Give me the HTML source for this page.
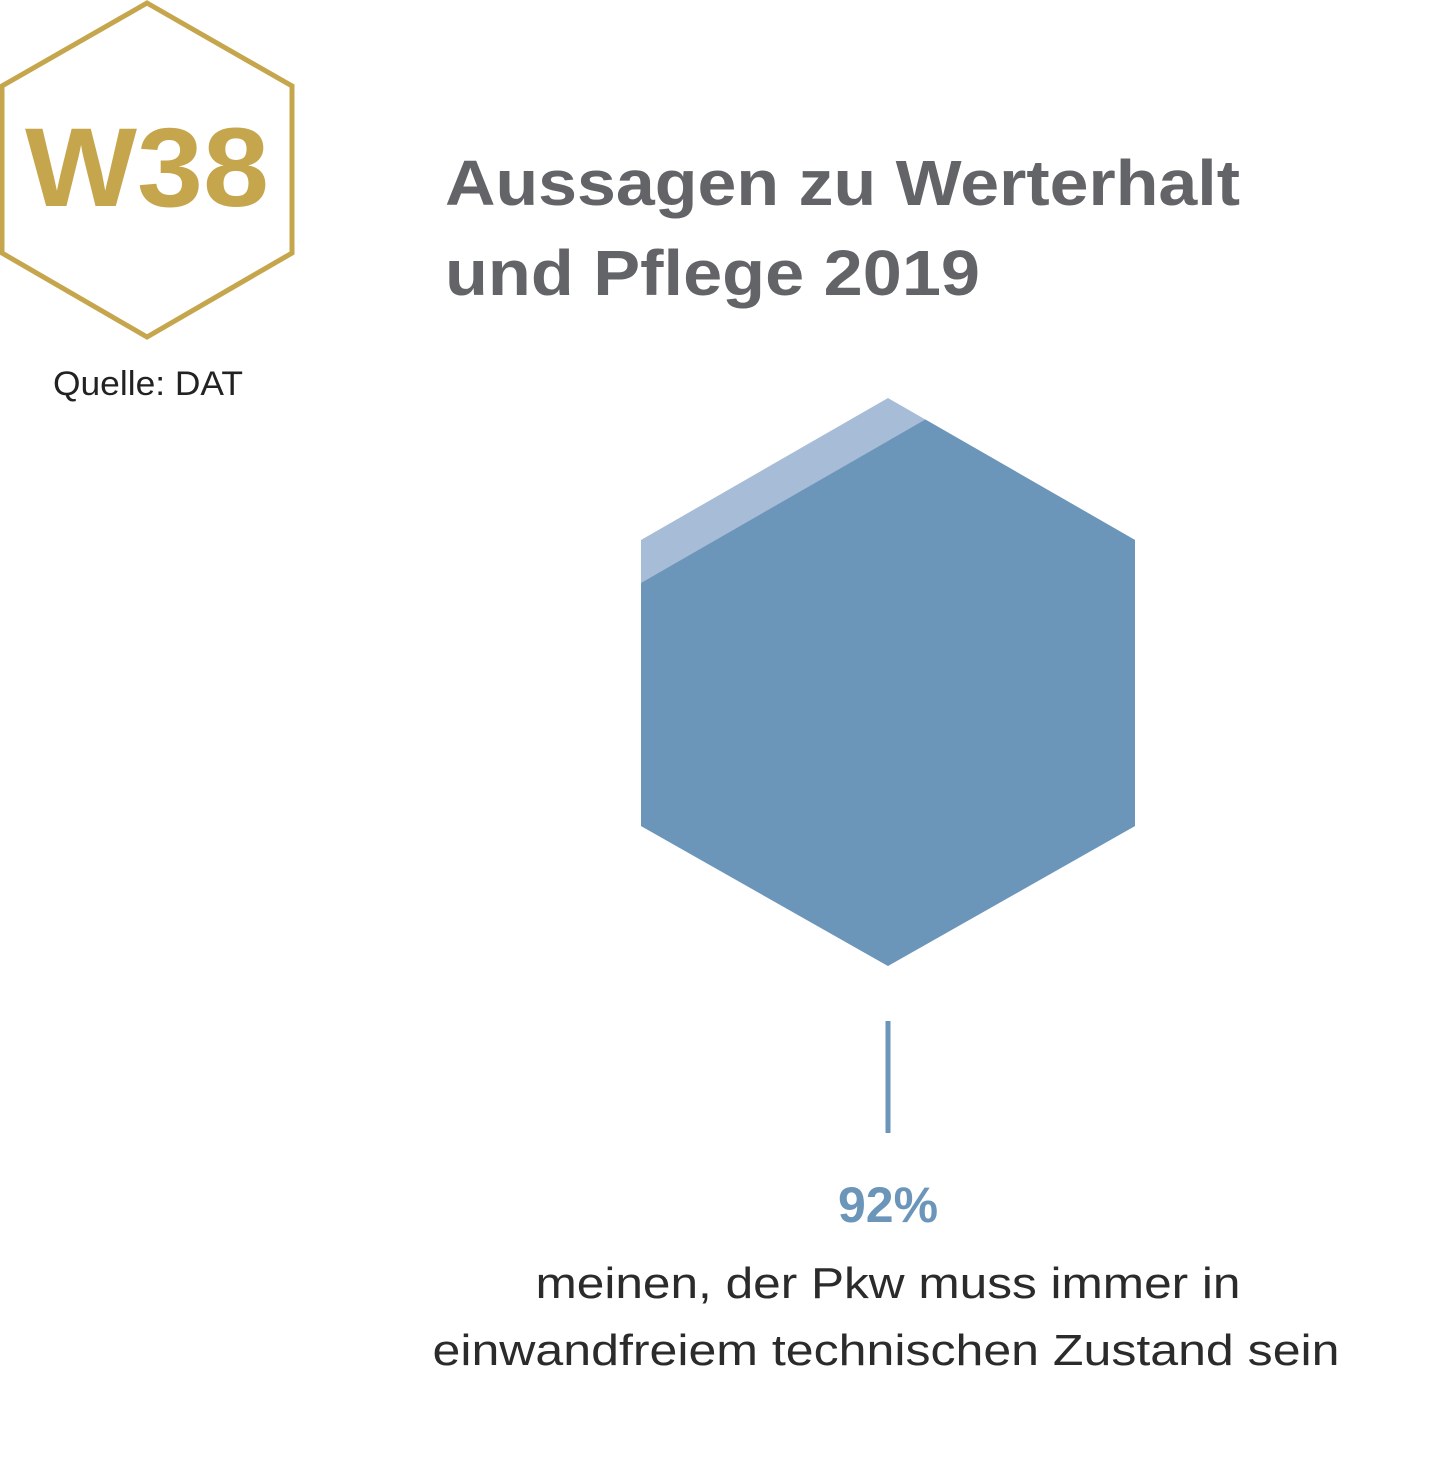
<!DOCTYPE html>
<html><head><meta charset="utf-8"><style>
html,body{margin:0;padding:0;background:#fff;width:1440px;height:1476px;overflow:hidden}
svg{display:block;font-family:"Liberation Sans",sans-serif}
</style></head><body>
<svg id="chart" width="1440" height="1476" viewBox="0 0 1440 1476">
<g>
<polygon points="147,3 292,86 292,253 147,337 2,253 2,86" fill="none" stroke="#c6a64d" stroke-width="5"/>
<text x="147" y="206" text-anchor="middle" font-size="112" font-weight="bold" fill="#c6a64d" textLength="244" lengthAdjust="spacingAndGlyphs">W38</text>
</g>
<text x="53" y="395" font-size="34" fill="#222" textLength="190" lengthAdjust="spacingAndGlyphs">Quelle: DAT</text>
<text x="445" y="205" font-size="64" font-weight="bold" fill="#636468" textLength="795" lengthAdjust="spacingAndGlyphs">Aussagen zu Werterhalt</text>
<text x="445" y="295" font-size="64" font-weight="bold" fill="#636468" textLength="535" lengthAdjust="spacingAndGlyphs">und Pflege 2019</text>
<defs><clipPath id="hexclip"><polygon points="888,398 1135,540 1135,826 888,966 641,826 641,540"/></clipPath></defs>
<g id="hexgroup"></g>
<line x1="888" y1="1021" x2="888" y2="1133" stroke="#6b96ba" stroke-width="5"/>
<text id="valueLabel" x="888" y="1222" text-anchor="middle" font-size="50" font-weight="bold" fill="#6b96ba"></text>
<text x="888" y="1298" text-anchor="middle" font-size="44" fill="#2b2b2b" textLength="705" lengthAdjust="spacingAndGlyphs">meinen, der Pkw muss immer in</text>
<text x="886" y="1365" text-anchor="middle" font-size="44" fill="#2b2b2b" textLength="907" lengthAdjust="spacingAndGlyphs">einwandfreiem technischen Zustand sein</text>
</svg>
<script>
const categories = ["Pkw immer in einwandfreiem technischen Zustand"];
const values = [92];
(function(){
const NS = "http://www.w3.org/2000/svg";
const g = document.getElementById('hexgroup');
const hexTop = {x:888,y:398}, hexUL = {x:641,y:540};
const slope = (hexUL.y - hexTop.y)/(hexUL.x - hexTop.x);
const maxOffset = 43/0.08;
function cutOffset(v){ return (1 - v/100) * maxOffset; }
const bg = document.createElementNS(NS,'polygon');
bg.setAttribute('points','888,398 1135,540 1135,826 888,966 641,826 641,540');
bg.setAttribute('fill','#a7bcd6');


g.appendChild(bg);
const off = cutOffset(values[0]);
const x0 = 600, x1 = 1200;
const y0 = hexUL.y + off + slope*(x0-hexUL.x), y1 = hexUL.y + off + slope*(x1-hexUL.x);
const fill = document.createElementNS(NS,'polygon');
fill.setAttribute('points', x0+','+y0+' '+x1+','+y1+' '+x1+',1000 '+x0+',1000');
fill.setAttribute('fill','#6b96ba');
fill.setAttribute('clip-path','url(#hexclip)');


g.appendChild(fill);
document.getElementById('valueLabel').textContent = values[0] + '%';
})();
</script>
</body></html>
